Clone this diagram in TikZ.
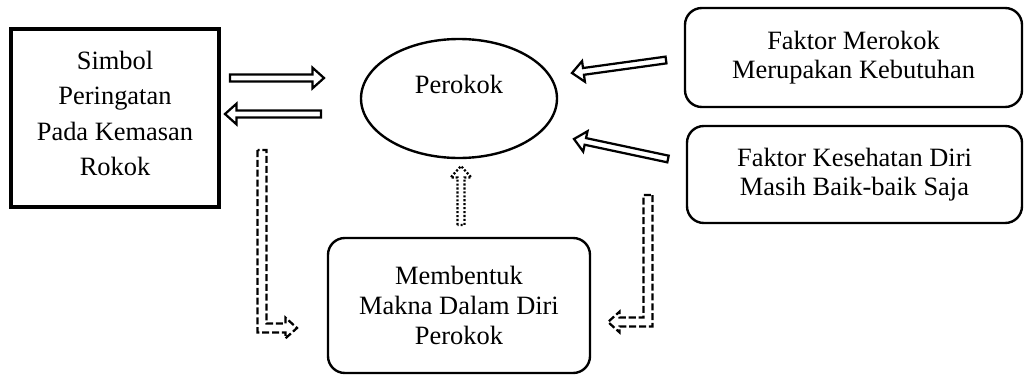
\documentclass[tikz,border=0pt]{standalone}
\usepackage{fontspec}
\setmainfont{Liberation Serif}
\usetikzlibrary{
  positioning,
  shapes.geometric,
  calc
}
\newcommand{\shaftw}{0.085cm}
\newcommand{\headw}{0.26cm}
\newcommand{\headl}{0.29cm}
\newcommand{\bentw}{0.11cm}

\begin{document}
\begin{tikzpicture}[
  every node/.style={font=\fontsize{18.8}{21}\selectfont, align=center},
  box/.style={draw, line width=1.7pt, rounded corners=0.42cm, inner sep=0pt},
  blockarrow/.style={line width=1.6pt, line join=miter, to path={
    ($(\tikztostart)!\shaftw!90:(\tikztotarget)$)
    -- ($(\tikztotarget)!\headl!(\tikztostart)!\shaftw!90:(\tikztotarget)$)
    -- ($(\tikztotarget)!\headl!(\tikztostart)!\headw!90:(\tikztotarget)$)
    -- (\tikztotarget)
    -- ($(\tikztotarget)!\headl!(\tikztostart)!\headw!-90:(\tikztotarget)$)
    -- ($(\tikztotarget)!\headl!(\tikztostart)!\shaftw!-90:(\tikztotarget)$)
    -- ($(\tikztostart)!\shaftw!-90:(\tikztotarget)$)
    -- cycle}},
  dasharrow/.style={line width=1.6pt, line join=miter, dash pattern=on 5pt off 2pt},
  dotarrow/.style={dash pattern=on 1.5pt off 1.3pt}
]
\useasboundingbox (0,0) rectangle (25.625,9.425);

\node[draw, line width=2.5pt, minimum width=5.2cm, minimum height=4.45cm] (simbol) at (2.875,6.475) {};
\node[font=\fontsize{18.8}{25.2}\selectfont] (simbol-t) at ([yshift=0.11cm]simbol.center)
  {Simbol\\Peringatan\\Pada Kemasan\\Rokok};

\node[draw, ellipse, line width=1.7pt, inner sep=0pt, minimum width=4.9cm, minimum height=2.975cm] (perokok) at (11.475,6.9625) {};
\node (perokok-t) at ([yshift=0.36cm]perokok.center) {Perokok};

\node[box, minimum width=8.425cm, minimum height=2.475cm] (butuh) at (21.3375,7.9875)
  {Faktor Merokok\\Merupakan Kebutuhan};
\node[box, minimum width=8.375cm, minimum height=2.425cm] (sehat) at (21.3625,5.0625)
  {Faktor Kesehatan Diri\\Masih Baik-baik Saja};
\node[box, font=\fontsize{18.8}{21.6}\selectfont, minimum width=6.55cm, minimum height=3.375cm] (makna) at (11.475,1.7875)
  {Membentuk\\Makna Dalam Diri\\Perokok};

\coordinate (kanan-s) at (5.75,7.475);
\coordinate (kanan-e) at (8.1,7.475);
\coordinate (kiri-s) at (8.025,6.575);
\coordinate (kiri-e) at (5.625,6.575);
\coordinate (butuh-s) at (16.65,7.925);
\coordinate (butuh-e) at (14.3,7.6);
\coordinate (sehat-s) at (16.7,5.45);
\coordinate (sehat-e) at (14.35,5.95);
\coordinate (makna-s) at (11.525,3.8);
\coordinate (makna-e) at (11.525,5.275);
\coordinate (simbol-s) at (6.55,5.675);
\coordinate (simbol-e) at (7.425,1.225);
\coordinate (sehat2-s) at (16.2,4.55);
\coordinate (sehat2-e) at (15.2,1.375);

\draw[blockarrow] (kanan-s) to (kanan-e);
\draw[blockarrow] (kiri-s) to (kiri-e);
\draw[blockarrow] (butuh-s) to (butuh-e);
\draw[blockarrow] (sehat-s) to (sehat-e);
\draw[blockarrow, dotarrow] (makna-s) to (makna-e);

\draw[dasharrow] let \p1=(simbol-s), \p2=(simbol-e) in
  (\x1-\bentw,\y1) |- (\x2-\headl,\y2-\bentw) -- ++(0,\bentw-\headw)
  -- (\p2) -- (\x2-\headl,\y2+\headw) -- ++(0,\bentw-\headw)
  -| (\x1+\bentw,\y1) -- cycle;
\draw[dasharrow] let \p1=(sehat2-s), \p2=(sehat2-e) in
  (\x1+\bentw,\y1) |- (\x2+\headl,\y2-\bentw) -- ++(0,\bentw-\headw)
  -- (\p2) -- (\x2+\headl,\y2+\headw) -- ++(0,\bentw-\headw)
  -| (\x1-\bentw,\y1) -- cycle;

\end{tikzpicture}
\end{document}
